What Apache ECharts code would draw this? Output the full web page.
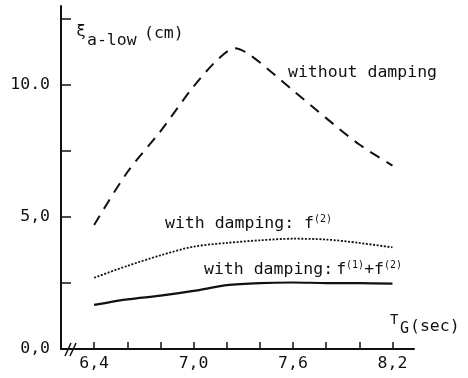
<!DOCTYPE html>
<html><head><meta charset="utf-8">
<script src="https://cdn.jsdelivr.net/npm/echarts@6/dist/echarts.min.js"></script>
<style>html,body{margin:0;padding:0;background:#fff}#c{width:468px;height:378px}</style>
</head><body><div id="c"></div>
<script>
// ---- data ----
const tG = [6.4, 6.6, 6.8, 7.0, 7.2, 7.4, 7.6, 7.8, 8.0, 8.2];
const withoutDampingT = [6.4, 6.6, 6.8, 7.0, 7.15, 7.25, 7.35, 7.6, 7.8, 8.0, 8.2];
const withoutDamping = [4.7, 6.7, 8.25, 9.95, 11.0, 11.4, 11.1, 9.8, 8.75, 7.75, 6.95];
const dampingF2 = [2.7, 3.15, 3.55, 3.88, 4.02, 4.12, 4.18, 4.15, 4.02, 3.85];
const dampingF1F2 = [1.67, 1.88, 2.02, 2.2, 2.42, 2.5, 2.52, 2.5, 2.5, 2.48];
const xTicks = [6.4, 6.6, 6.8, 7.0, 7.2, 7.4, 7.6, 7.8, 8.0, 8.2];
const xLabelValues = [6.4, 7.0, 7.6, 8.2];
const xLabelText = ['6,4', '7,0', '7,6', '8,2'];
const yTicks = [0, 2.5, 5, 7.5, 10, 12.5];
const yLabelValues = [0, 5, 10];
const yLabelText = ['0,0', '5,0', '10.0'];

const FONT = "'DejaVu Sans Mono', 'Liberation Mono', monospace";
const INK = '#111';

function pairs(xs, ys) { return xs.map((x, i) => [x, ys[i]]); }
function lookup(vals, texts) {
  return v => { const i = vals.findIndex(a => Math.abs(a - v) < 1e-6); return i >= 0 ? texts[i] : ''; };
}

const chart = echarts.init(document.getElementById('c'), null, {renderer: 'canvas'});
const txt = (x, y, text, extra) => Object.assign({
  type: 'text', x, y,
  style: Object.assign({text, font: '16.5px ' + FONT, fill: INK, textVerticalAlign: 'middle'}, extra || {})
});

chart.setOption({
  animation: false,
  backgroundColor: '#fff',
  grid: {left: 61, right: 54, top: 6, bottom: 29},
  xAxis: {
    type: 'value', min: 6.2, max: 8.33, interval: 0.2,
    axisLine: {lineStyle: {color: INK, width: 2}},
    axisTick: {inside: true, length: 7, customValues: xTicks, lineStyle: {color: INK, width: 1.5}},
    axisLabel: {customValues: xLabelValues, formatter: lookup(xLabelValues, xLabelText),
      fontFamily: FONT, fontSize: 16.5, color: INK, margin: 6},
    splitLine: {show: false}
  },
  yAxis: {
    type: 'value', min: 0, max: 13, interval: 2.5,
    axisLine: {show: true, lineStyle: {color: INK, width: 2}},
    axisTick: {show: true, inside: true, length: 10, customValues: yTicks, lineStyle: {color: INK, width: 1.5}},
    axisLabel: {customValues: yLabelValues, formatter: lookup(yLabelValues, yLabelText),
      fontFamily: FONT, fontSize: 16.5, color: INK, margin: 11},
    splitLine: {show: false}
  },
  series: [
    {type: 'line', data: pairs(withoutDampingT, withoutDamping), showSymbol: false, smooth: 0.3,
      lineStyle: {color: INK, width: 2, type: [11, 8]}},
    {type: 'line', data: pairs(tG, dampingF2), showSymbol: false, smooth: 0.3,
      lineStyle: {color: INK, width: 1.8, type: [2, 1.6]}},
    {type: 'line', data: pairs(tG, dampingF1F2), showSymbol: false, smooth: 0.3,
      lineStyle: {color: INK, width: 2.2}}
  ],
  graphic: [
    // axis break marks
    {type: 'line', shape: {x1: 65, y1: 356, x2: 71, y2: 343}, style: {stroke: INK, lineWidth: 1.5}},
    {type: 'line', shape: {x1: 70, y1: 356, x2: 76, y2: 343}, style: {stroke: INK, lineWidth: 1.5}},
    // y axis name
    txt(76, 32, 'ξ'),
    txt(87, 41, 'a-low'),
    txt(144, 34, '(cm)'),
    // x axis name
    txt(390, 320, 'T', {font: '14px ' + FONT}),
    txt(400, 329, 'G', {font: '15px ' + FONT}),
    txt(410, 327, '(sec)'),
    // curve labels
    txt(288, 73, 'without damping'),
    {type: 'text', x: 165, y: 224, style: {
      text: 'with damping: f{s|(2)}', font: '16.5px ' + FONT, fill: INK, textVerticalAlign: 'middle',
      rich: {s: {fontSize: 10, fontFamily: FONT, fill: INK, padding: [0, 0, 9, 0]}}
    }},
    {type: 'text', x: 204, y: 270, style: {
      text: 'with damping:{f|f}{s|(1)}+f{s|(2)}', font: '16.5px ' + FONT, fill: INK, textVerticalAlign: 'middle',
      rich: {
        f: {fontSize: 16.5, fontFamily: FONT, fill: INK, padding: [0, 0, 0, 3]},
        s: {fontSize: 10, fontFamily: FONT, fill: INK, padding: [0, 0, 9, 0]}
      }
    }}
  ]
});
</script>
</body></html>
